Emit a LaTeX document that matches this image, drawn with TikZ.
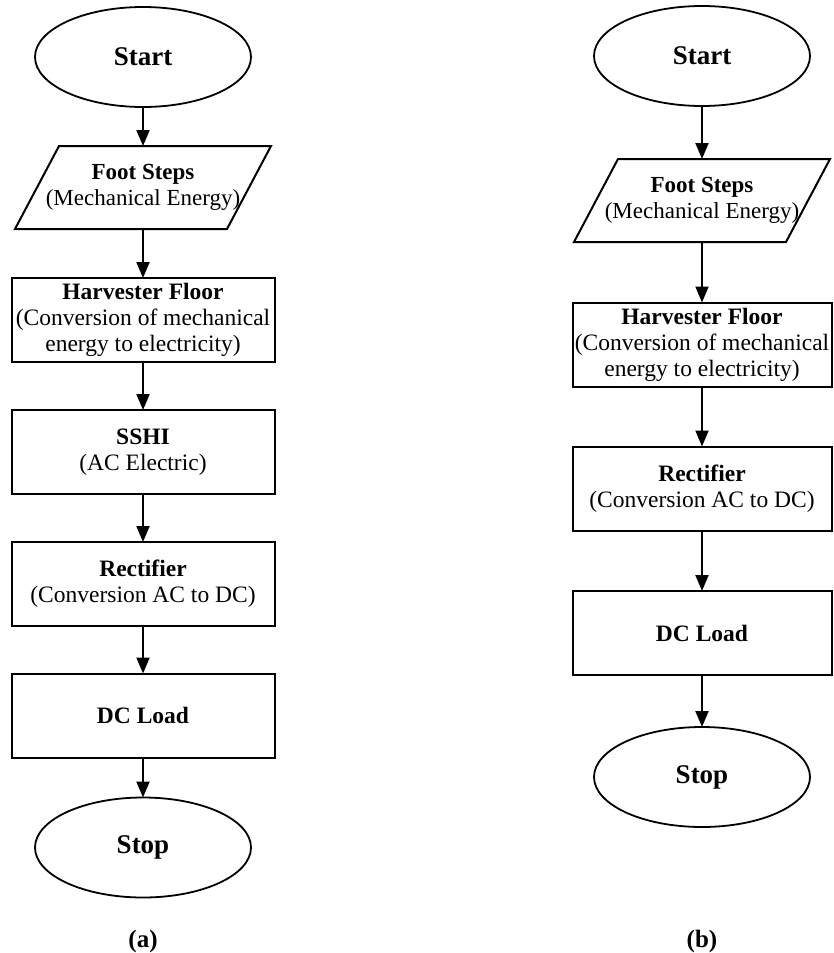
\documentclass[tikz,border=0pt]{standalone}
\usepackage{fontspec}
\setmainfont{Liberation Serif}
\usetikzlibrary{shapes.geometric,arrows.meta}
\tikzset{
  every node/.style={inner sep=0pt, outer sep=0pt},
  term/.style={ellipse, draw, line width=1.8pt, minimum width=216pt, minimum height=100pt,
    font=\fontsize{27}{30}\selectfont\bfseries},
  procbox/.style={rectangle, draw, line width=2pt, minimum height=84pt, align=center,
    font=\fontsize{23.5}{26}\selectfont},
  iobox/.style={minimum width=212pt, minimum height=83pt, align=center,
    font=\fontsize{23}{26}\selectfont},
  ioline/.style={line width=2pt, line join=miter},
  flow/.style={line width=2pt, -{Triangle[width=13pt,length=16pt]}},
  caption/.style={font=\fontsize{25}{28}\selectfont\bfseries}
}
\begin{document}
\begin{tikzpicture}[x=1pt,y=-1pt]
\useasboundingbox (0,0) rectangle (833,953);
% ---------- (a) ----------
\node[term] (sa) at (143,57) {Start};
\node[iobox] (fa) at (143,187.5) {\textbf{Foot Steps}\\(Mechanical Energy)};
\draw[ioline] ([xshift=22pt]fa.north west) -- ([xshift=22pt]fa.north east)
  -- ([xshift=-22pt]fa.south east) -- ([xshift=-22pt]fa.south west) -- cycle;
\node[procbox, minimum width=263pt] (ha) at (143,320) {\textbf{Harvester Floor}\\(Conversion of mechanical\\energy to electricity)};
\node[procbox, minimum width=263pt] (ssa) at (143,452) {\textbf{SSHI}\\(AC Electric)};
\node[procbox, minimum width=263pt] (ra) at (143,584) {\textbf{Rectifier}\\(Conversion AC to DC)};
\node[procbox, minimum width=263pt] (da) at (143,715.5) {\textbf{DC Load}};
\node[term] (ea) at (143,847.5) {Stop};
\node[caption] (la) at (143,941) {(a)};
\draw[flow] (sa.south) -- (fa.north);
\draw[flow] (fa.south) -- (ha.north);
\draw[flow] (ha.south) -- (ssa.north);
\draw[flow] (ssa.south) -- (ra.north);
\draw[flow] (ra.south) -- (da.north);
\draw[flow] (da.south) -- (ea.north);
% ---------- (b) ----------
\node[term] (sb) at (702,56) {Start};
\node[iobox] (fb) at (702,200.5) {\textbf{Foot Steps}\\(Mechanical Energy)};
\draw[ioline] ([xshift=22pt]fb.north west) -- ([xshift=22pt]fb.north east)
  -- ([xshift=-22pt]fb.south east) -- ([xshift=-22pt]fb.south west) -- cycle;
\node[procbox, minimum width=259pt] (hb) at (702,344.5) {\textbf{Harvester Floor}\\(Conversion of mechanical\\energy to electricity)};
\node[procbox, minimum width=259pt] (rb) at (702,488.5) {\textbf{Rectifier}\\(Conversion AC to DC)};
\node[procbox, minimum width=259pt] (db) at (702,633) {\textbf{DC Load}};
\node[term] (eb) at (702,777) {Stop};
\node[caption] (lb) at (702,941) {(b)};
\draw[flow] (sb.south) -- (fb.north);
\draw[flow] (fb.south) -- (hb.north);
\draw[flow] (hb.south) -- (rb.north);
\draw[flow] (rb.south) -- (db.north);
\draw[flow] (db.south) -- (eb.north);
\end{tikzpicture}
\end{document}
